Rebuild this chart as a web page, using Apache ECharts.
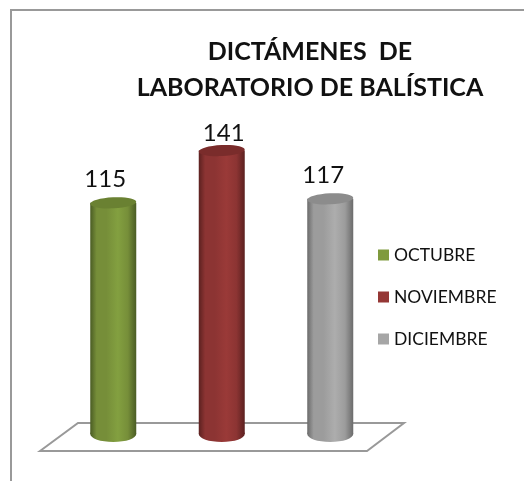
<!DOCTYPE html>
<html><head><meta charset="utf-8">
<style>html,body{margin:0;padding:0;background:#fff}#c{width:524px;height:481px}</style>
<script src="https://cdn.jsdelivr.net/npm/echarts@6/dist/echarts.min.js"></script>
</head><body><div id="c"></div>
<script>
const months = ['OCTUBRE','NOVIEMBRE','DICIEMBRE'];
const values = [115,141,117];
const colors = ['#83A040','#9A3A38','#ADADAD'];
const edgeColors = ['#4A5C24','#5C2120','#6B6B6B'];
const midColors = ['#768E39','#8C3433','#9C9C9C'];
const lidColors = ['#6A8132','#7A2C2B','#8C8C8C'];
const legendColors = ['#7F9A3D','#953735','#A6A6A6'];
const labelShift = [[-8,-12],[2,-5],[-7,-12]];

const chart = echarts.init(document.getElementById('c'));
function cyl(idx){
  return function(params, api){
    const top = api.coord([idx, api.value(0)]);
    const base = api.coord([idx, 0]);
    const w = 46, x = top[0]-w/2;
    const grad = new echarts.graphic.LinearGradient(0,0,1,0,[
      {offset:0,color:edgeColors[idx]},
      {offset:0.14,color:midColors[idx]},
      {offset:0.35,color:midColors[idx]},
      {offset:0.6,color:colors[idx]},
      {offset:0.82,color:midColors[idx]},
      {offset:1,color:edgeColors[idx]}
    ]);
    return {type:'group',children:[
      {type:'ellipse',shape:{cx:top[0],cy:base[1],rx:w/2,ry:8},style:{fill:grad}},
      {type:'rect',shape:{x:x,y:top[1],width:w,height:base[1]-top[1]},style:{fill:grad}},
      {type:'ellipse',shape:{cx:top[0],cy:top[1],rx:w/2,ry:5.5},
        rotation:0.05,originX:top[0],originY:top[1],style:{fill:lidColors[idx]}},
      {type:'text',x:top[0]+labelShift[idx][0],y:top[1]+labelShift[idx][1],
        style:{text:String(api.value(0)),fill:'#111',font:'24px Lato',align:'center',verticalAlign:'bottom'}}
    ]};
  };
}
chart.setOption({
  animation:false,
  backgroundColor:'#fff',
  title:{text:'DICTÁMENES  DE\nLABORATORIO DE BALÍSTICA',left:305,top:29,textAlign:'center',
    textStyle:{fontFamily:'Lato',fontWeight:'bold',fontSize:25,lineHeight:36,color:'#111'}},
  legend:{orient:'vertical',left:373,top:241,itemWidth:11,itemHeight:11,itemGap:24,
    selectedMode:false,icon:'rect',data:months,
    textStyle:{fontFamily:'Lato',fontSize:17.5,color:'#111'}},
  grid:{left:59,width:325.5,top:32,height:402},
  xAxis:{type:'category',data:months,show:false},
  yAxis:{type:'value',min:0,max:200,show:false},
  graphic:[
    {type:'polyline',z:-1,shape:{points:[[11,481],[11,10],[524,10]]},style:{stroke:'#999',lineWidth:2,fill:null}},
    {type:'polygon',z:-1,shape:{points:[[40,451],[78,423],[404,423],[367,451]]},style:{stroke:'#999',lineWidth:2,fill:'#fff'}}
  ],
  series:months.map((m,i)=>({
    name:m,type:'custom',coordinateSystem:'cartesian2d',
    itemStyle:{color:legendColors[i]},
    renderItem:cyl(i),
    data:[[values[i]]],
    dimensions:['v'],
    encode:{y:0}
  }))
});
</script></body></html>
